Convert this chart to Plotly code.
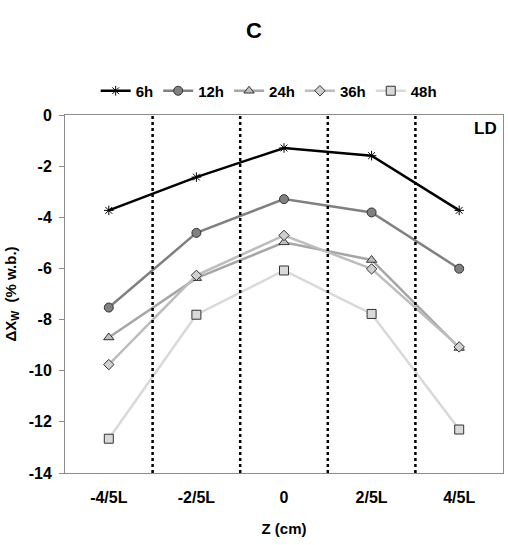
import plotly.graph_objects as go

categories = ["-4/5L", "-2/5L", "0", "2/5L", "4/5L"]
series_names = ["6h", "12h", "24h", "36h", "48h"]
v6 = [-3.73, -2.43, -1.29, -1.59, -3.73]
v12 = [-7.53, -4.61, -3.29, -3.81, -6.01]
v24 = [-8.70, -6.38, -4.98, -5.67, -9.11]
v36 = [-9.76, -6.27, -4.71, -6.02, -9.07]
v48 = [-12.66, -7.81, -6.08, -7.78, -12.30]
yticks = [0, -2, -4, -6, -8, -10, -12, -14]

values = [v6, v12, v24, v36, v48]
line_colors = ["#000000", "#808080", "#a6a6a6", "#bdbdbd", "#d9d9d9"]
marker_fill = ["#000000", "#808080", "#bfbfbf", "#d0d0d0", "#d9d9d9"]
symbols = ["asterisk-open", "circle", "triangle-up", "diamond", "square"]
sizes = [8, 9, 9, 8, 9]

font = "Liberation Sans, Arial, sans-serif"
fig = go.Figure()
xs = list(range(len(categories)))
for name, vals, lc, mf, sym, sz in zip(series_names, values, line_colors, marker_fill, symbols, sizes):
    fig.add_trace(go.Scatter(
        x=xs, y=vals, name="<b>%s</b>" % name, mode="lines+markers",
        line=dict(color=lc, width=2.5),
        marker=dict(symbol=sym, size=sz, color=mf if sym != "asterisk-open" else "#000000",
                    line=dict(color="#000000" if sym == "asterisk-open" else "#333333", width=1)),
    ))

shapes = []
for i in range(len(categories) - 1):
    xb = i + 0.5
    shapes.append(dict(type="line", xref="x", yref="paper", x0=xb, x1=xb, y0=0, y1=1,
                       line=dict(color="#000000", width=2.5, dash="dot")))

fig.update_layout(
    width=508, height=545,
    margin=dict(l=65, r=5, t=115, b=72),
    paper_bgcolor="white", plot_bgcolor="white",
    font=dict(family=font, size=16, color="#000000"),
    title=dict(text="<b>C</b>", x=0.5, xanchor="center", y=1 - 30 / 545, yanchor="middle",
               font=dict(size=22, family=font, color="#000000")),
    showlegend=True,
    legend=dict(orientation="h", x=0.07, xanchor="left", y=1 + 24 / 358, yanchor="middle",
                font=dict(size=15, family=font, color="#000000"),
                itemwidth=30, tracegroupgap=0, bgcolor="rgba(0,0,0,0)"),
    shapes=shapes,
    annotations=[dict(text="<b>LD</b>", xref="paper", yref="paper", x=0.99, y=0.995,
                      xanchor="right", yanchor="top", showarrow=False,
                      font=dict(size=17, family=font, color="#000000"))],
)
fig.update_xaxes(
    tickmode="array", tickvals=xs, ticktext=["<b>%s</b>" % c for c in categories],
    range=[-0.5, len(categories) - 0.5], showgrid=False, zeroline=False,
    showline=True, linecolor="#8c8c8c", linewidth=1, mirror=True, ticks="",
    ticklabelstandoff=10,
    tickfont=dict(size=16, family=font, color="#000000"),
    title=dict(text="<b>Z (cm)</b>", font=dict(size=15, family=font), standoff=18),
)
fig.update_yaxes(
    range=[-14, 0], tickmode="array", tickvals=yticks, ticktext=["<b>%d</b>" % t for t in yticks],
    showgrid=False, zeroline=False, showline=True, linecolor="#8c8c8c", linewidth=1, mirror=True,
    ticks="outside", ticklen=5, tickcolor="#8c8c8c", ticklabelstandoff=4,
    tickfont=dict(size=16, family=font, color="#000000"),
    title=dict(text="<b>ΔX<sub>W</sub>  (% w.b.)</b>", font=dict(size=15, family=font), standoff=8),
)
fig.write_html("out.html", config={"displayModeBar": False},
               post_script="document.body.style.margin='0';")
